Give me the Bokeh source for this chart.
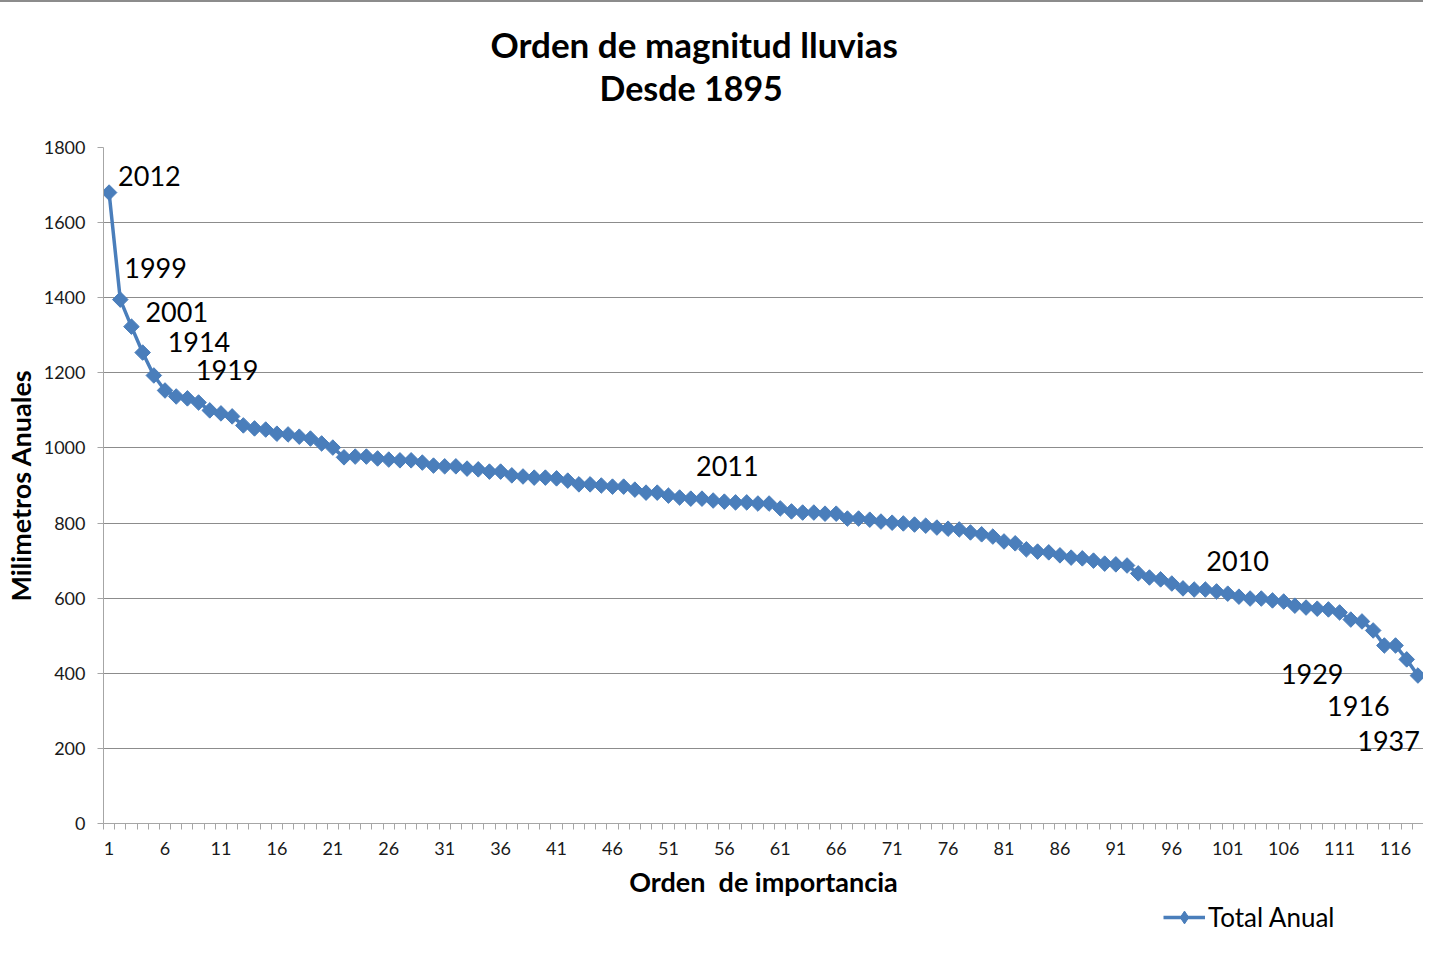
import math
from bokeh.plotting import figure
from bokeh.layouts import column
from bokeh.models import (ColumnDataSource, FixedTicker, LabelSet, Legend,
                          LegendItem, Range1d, Title)
from bokeh.core.properties import value
from bokeh.embed import file_html
from bokeh.resources import INLINE

# ---------------- data ----------------
ranks = list(range(1, 119))
rainfall_mm = [
    1680, 1395, 1323, 1254, 1193, 1153, 1137, 1132, 1121, 1100,
    1092, 1084, 1060, 1052, 1049, 1038, 1036, 1030, 1025, 1012,
    1001, 975, 977, 977, 972, 969, 967, 967, 961, 953,
    951, 951, 945, 943, 937, 937, 927, 924, 921, 921,
    919, 913, 903, 903, 900, 897, 897, 889, 881, 881,
    873, 868, 865, 865, 860, 857, 855, 855, 852, 852,
    839, 831, 828, 828, 825, 825, 812, 812, 809, 804,
    801, 799, 796, 793, 788, 785, 783, 775, 770, 764,
    751, 746, 730, 724, 722, 714, 708, 706, 700, 692,
    690, 687, 666, 655, 650, 639, 626, 623, 623, 618,
    612, 604, 599, 599, 594, 591, 580, 575, 572, 570,
    562, 543, 538, 514, 474, 474, 437, 394,
]
label_ranks = [1, 2, 3, 4, 5, 54, 99, 116, 117, 118]
label_years = ["2012", "1999", "2001", "1914", "1919", "2011", "2010", "1929", "1916", "1937"]
x_tick_values = list(range(1, 117, 5))
y_tick_values = list(range(0, 1801, 200))
series_name = "Total Anual"

# ---------------- label placement (layout, pixels) ----------------
label_dx = [9, 4, 14, 25, 42, -6, 1, -52, -17, 2]
label_dy = [17, 32, 15, 11, 5, 33, 29, -29, -47, -65]
label_align = ["left"] * 7 + ["right"] * 3

FONT = "Lato"
BLUE = "#4A7EBB"

p = figure(frame_width=1320, frame_height=676,
           min_border_left=97, min_border_right=0, min_border_top=145, min_border_bottom=76,
           x_range=Range1d(0.5, 118.5), y_range=Range1d(0, 1800),
           output_backend="svg", toolbar_location=None)
p.outline_line_color = None
p.background_fill_color = "white"
p.border_fill_color = "white"

src = ColumnDataSource(dict(x=ranks, y=rainfall_mm))
ln = p.line("x", "y", source=src, line_color=BLUE, line_width=3.5)
sc = p.scatter("x", "y", source=src, marker="square", size=11, angle=math.pi / 4,
               fill_color=BLUE, line_color=BLUE)

# axes
xa = p.xaxis[0]
xa.ticker = FixedTicker(ticks=x_tick_values, minor_ticks=[r - 0.5 for r in ranks] + [118.5])
xa.major_tick_out = 0
xa.major_tick_in = 0
xa.minor_tick_out = 6
xa.minor_tick_in = 0
xa.minor_tick_line_color = "#a6a6a6"
xa.axis_line_color = "#a6a6a6"
xa.major_label_text_font = FONT
xa.major_label_text_font_size = "18px"
xa.major_label_text_color = "#1a1a1a"
xa.major_label_standoff = 12
xa.axis_label = "Orden\u00a0 de importancia"
xa.axis_label_text_font = FONT
xa.axis_label_text_font_style = "bold"
xa.axis_label_text_font_size = "27px"
xa.axis_label_text_color = "#000000"
xa.axis_label_standoff = 7

ya = p.yaxis[0]
ya.ticker = FixedTicker(ticks=y_tick_values)
ya.major_tick_out = 6
ya.major_tick_in = 0
ya.minor_tick_out = 0
ya.minor_tick_in = 0
ya.major_tick_line_color = "#a6a6a6"
ya.axis_line_color = "#a6a6a6"
ya.major_label_text_font = FONT
ya.major_label_text_font_size = "18px"
ya.major_label_text_color = "#1a1a1a"
ya.major_label_standoff = 12
ya.axis_label = "Milimetros Anuales"
ya.axis_label_text_font = FONT
ya.axis_label_text_font_style = "bold"
ya.axis_label_text_font_size = "27px"
ya.axis_label_text_color = "#000000"
ya.axis_label_standoff = 4

p.xgrid.grid_line_color = None
p.ygrid.grid_line_color = "#8c8c8c"
p.ygrid.grid_line_width = 1

# data labels
lab_src = ColumnDataSource(dict(
    x=label_ranks,
    y=[rainfall_mm[r - 1] for r in label_ranks],
    text=label_years, dx=label_dx, dy=label_dy, align=label_align))
p.add_layout(LabelSet(x="x", y="y", text="text", source=lab_src,
                      x_offset="dx", y_offset="dy", text_align="align",
                      text_baseline="middle", text_font=value(FONT),
                      text_font_size=value("27px"), text_color="#000000"))

# title: first line is the main (outermost) title, second line and a spacer below it
p.title.text = "Orden de magnitud lluvias"
p.title.align = "left"
p.title.offset = 387
p.title.text_font = FONT
p.title.text_font_style = "bold"
p.title.text_font_size = "35px"
p.title.text_color = "#000000"
p.title.standoff = 0
p.add_layout(Title(text=" ", text_font_size="10px", standoff=27), "above")
p.add_layout(Title(text="Desde 1895", align="left", offset=496,
                   text_font=FONT, text_font_style="bold", text_font_size="34px",
                   text_color="#000000", standoff=0), "above")

# legend strip below the chart (series renderers kept outside its visible range)
p2 = figure(width=1417, height=56, min_border=0, x_range=Range1d(-2, -1), y_range=Range1d(0, 1),
            x_axis_location=None, y_axis_location=None,
            output_backend="svg", toolbar_location=None)
p2.outline_line_color = None
p2.xgrid.grid_line_color = None
p2.ygrid.grid_line_color = None
p2.border_fill_color = "white"
lg_line = p2.line("x", "y", source=src, line_color=BLUE, line_width=3.5)
lg_mark = p2.scatter("x", "y", source=src, marker="diamond", size=15,
                     fill_color=BLUE, line_color=BLUE)
legend = Legend(items=[LegendItem(label=series_name, renderers=[lg_line, lg_mark])],
                location=(1060, 23), orientation="horizontal",
                glyph_width=42, glyph_height=32, label_standoff=3,
                padding=0, margin=0, spacing=0,
                label_text_font=FONT, label_text_font_size="26px",
                label_text_line_height=1.0,
                label_text_color="#000000", label_text_baseline="middle",
                border_line_color=None, background_fill_alpha=0)
p2.add_layout(legend, "center")

layout = column(p, p2, spacing=0)
layout.styles = {"border-top": "2px solid #8c8c8c"}

open("out.html", "w").write(file_html(layout, INLINE))
